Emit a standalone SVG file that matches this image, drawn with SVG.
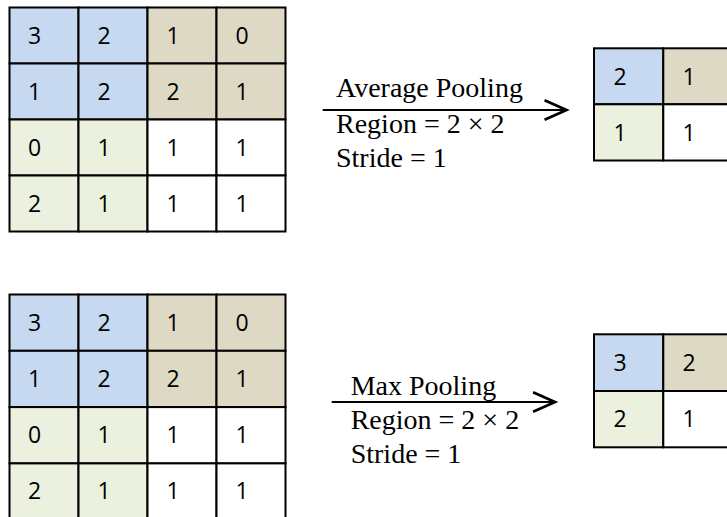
<svg xmlns="http://www.w3.org/2000/svg" width="727" height="517" viewBox="0 0 727 517">
<style>
.c{stroke:#000;stroke-width:2}
.b{fill:#C6D9F1}.t{fill:#DDD9C4}.g{fill:#EBF1DE}.w{fill:#FFFFFF}
.d{font-family:"Open Sans","Liberation Sans",sans-serif;font-size:23px;fill:#000;text-anchor:middle}
.l{font-family:"Liberation Serif","Times New Roman",serif;font-size:28px;fill:#000}
.a{stroke:#000;stroke-width:2;fill:none}
</style>
<defs>
<marker id="arr" markerUnits="userSpaceOnUse" markerWidth="30" markerHeight="30" refX="0" refY="0" viewBox="-22 -12 26 24" orient="auto" overflow="visible">
<path d="M-19,-8.5 L0,0 L-19,8.5" fill="none" stroke="#000" stroke-width="2.4"/>
</marker>
</defs>
<rect width="727" height="517" fill="#fff"/>

<g id="input-avg">
<rect class="c b" x="9.5" y="7.5" width="69" height="56"/><rect class="c b" x="78.5" y="7.5" width="69" height="56"/><rect class="c t" x="147.5" y="7.5" width="69" height="56"/><rect class="c t" x="216.5" y="7.5" width="69" height="56"/>
<rect class="c b" x="9.5" y="63.5" width="69" height="56"/><rect class="c b" x="78.5" y="63.5" width="69" height="56"/><rect class="c t" x="147.5" y="63.5" width="69" height="56"/><rect class="c t" x="216.5" y="63.5" width="69" height="56"/>
<rect class="c g" x="9.5" y="119.5" width="69" height="56"/><rect class="c g" x="78.5" y="119.5" width="69" height="56"/><rect class="c w" x="147.5" y="119.5" width="69" height="56"/><rect class="c w" x="216.5" y="119.5" width="69" height="56"/>
<rect class="c g" x="9.5" y="175.5" width="69" height="56"/><rect class="c g" x="78.5" y="175.5" width="69" height="56"/><rect class="c w" x="147.5" y="175.5" width="69" height="56"/><rect class="c w" x="216.5" y="175.5" width="69" height="56"/>
<text class="d" x="34.5" y="43.5">3</text><text class="d" x="104" y="43.5">2</text><text class="d" x="173" y="43.5">1</text><text class="d" x="242" y="43.5">0</text>
<text class="d" x="34.5" y="99.5">1</text><text class="d" x="104" y="99.5">2</text><text class="d" x="173" y="99.5">2</text><text class="d" x="242" y="99.5">1</text>
<text class="d" x="34.5" y="155.5">0</text><text class="d" x="104" y="155.5">1</text><text class="d" x="173" y="155.5">1</text><text class="d" x="242" y="155.5">1</text>
<text class="d" x="34.5" y="211.5">2</text><text class="d" x="104" y="211.5">1</text><text class="d" x="173" y="211.5">1</text><text class="d" x="242" y="211.5">1</text>
</g>

<g id="input-max">
<rect class="c b" x="9.5" y="294.5" width="69" height="56.3"/><rect class="c b" x="78.5" y="294.5" width="69" height="56.3"/><rect class="c t" x="147.5" y="294.5" width="69" height="56.3"/><rect class="c t" x="216.5" y="294.5" width="69" height="56.3"/>
<rect class="c b" x="9.5" y="350.8" width="69" height="56.3"/><rect class="c b" x="78.5" y="350.8" width="69" height="56.3"/><rect class="c t" x="147.5" y="350.8" width="69" height="56.3"/><rect class="c t" x="216.5" y="350.8" width="69" height="56.3"/>
<rect class="c g" x="9.5" y="407.1" width="69" height="56.3"/><rect class="c g" x="78.5" y="407.1" width="69" height="56.3"/><rect class="c w" x="147.5" y="407.1" width="69" height="56.3"/><rect class="c w" x="216.5" y="407.1" width="69" height="56.3"/>
<rect class="c g" x="9.5" y="463.4" width="69" height="56.3"/><rect class="c g" x="78.5" y="463.4" width="69" height="56.3"/><rect class="c w" x="147.5" y="463.4" width="69" height="56.3"/><rect class="c w" x="216.5" y="463.4" width="69" height="56.3"/>
<text class="d" x="34.5" y="330.5">3</text><text class="d" x="104" y="330.5">2</text><text class="d" x="173" y="330.5">1</text><text class="d" x="242" y="330.5">0</text>
<text class="d" x="34.5" y="386.8">1</text><text class="d" x="104" y="386.8">2</text><text class="d" x="173" y="386.8">2</text><text class="d" x="242" y="386.8">1</text>
<text class="d" x="34.5" y="443.1">0</text><text class="d" x="104" y="443.1">1</text><text class="d" x="173" y="443.1">1</text><text class="d" x="242" y="443.1">1</text>
<text class="d" x="34.5" y="499.4">2</text><text class="d" x="104" y="499.4">1</text><text class="d" x="173" y="499.4">1</text><text class="d" x="242" y="499.4">1</text>
</g>

<g id="output-avg">
<rect class="c b" x="594" y="48.3" width="69.3" height="56"/><rect class="c t" x="663.3" y="48.3" width="69.3" height="56"/>
<rect class="c g" x="594" y="104.3" width="69.3" height="56.2"/><rect class="c w" x="663.3" y="104.3" width="69.3" height="56.2"/>
<text class="d" x="620" y="84.5">2</text><text class="d" x="689" y="84.5">1</text>
<text class="d" x="620" y="140.5">1</text><text class="d" x="689" y="140.5">1</text>
</g>

<g id="output-max">
<rect class="c b" x="594" y="334.3" width="69.3" height="56.7"/><rect class="c t" x="663.3" y="334.3" width="69.3" height="56.7"/>
<rect class="c g" x="594" y="391" width="69.3" height="56.3"/><rect class="c w" x="663.3" y="391" width="69.3" height="56.3"/>
<text class="d" x="620" y="370.8">3</text><text class="d" x="689" y="370.8">2</text>
<text class="d" x="620" y="427.3">2</text><text class="d" x="689" y="427.3">1</text>
</g>

<g id="label-avg">
<text class="l" x="336" y="97.3">Average Pooling</text>
<text class="l" x="336" y="132.7">Region = 2 × 2</text>
<text class="l" x="336" y="167.3">Stride = 1</text>
</g>

<g id="label-max">
<text class="l" x="350.7" y="395">Max Pooling</text>
<text class="l" x="350.7" y="429">Region = 2 × 2</text>
<text class="l" x="350.7" y="463">Stride = 1</text>
</g>

<g id="connectors">
<path class="a" d="M322.7,110 L566.5,110" marker-end="url(#arr)"/>
<path class="a" d="M331.7,402 L555,402" marker-end="url(#arr)"/>
</g>
</svg>
